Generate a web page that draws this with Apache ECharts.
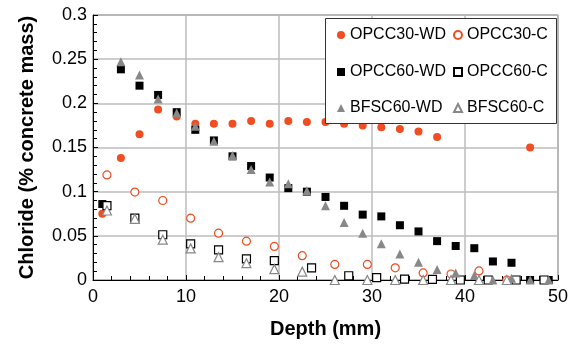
<!DOCTYPE html>
<html>
<head>
<meta charset="utf-8">
<script src="https://cdn.jsdelivr.net/npm/echarts@6/dist/echarts.min.js"></script>
<style>html,body{margin:0;padding:0;background:#fff}#c{width:575px;height:344px}</style>
</head>
<body>
<div id="c"></div>
<script>
// Depths (mm)
var wdDepth = [1,3,5,7,9,11,13,15,17,19,21,23,25,27,29,31,33,35,37,39,41,43,45,47,49];
var cDepthA = [1.5,4.5,7.5,10.5,13.5,16.5,19.5,22.5,26,29.5,32.5,35.5,38.5,41.5,44.5];
var cDepthB = [1.5,4.5,7.5,10.5,13.5,16.5,19.5,23.5,27.5,30.5,33.5,36.5,39.5,42.5,45.5,48.5];

// Chloride (% concrete mass)
var opcc30WD = [0.075,0.138,0.165,0.193,0.185,0.177,0.177,0.177,0.180,0.177,0.180,0.179,0.179,0.177,0.175,0.173,0.171,0.168,0.162,null,null,null,null,0.150,null];
var opcc60WD = [0.086,0.2385,0.220,0.2095,0.190,0.170,0.158,0.140,0.129,0.116,0.104,0.100,0.094,0.084,0.074,0.072,0.062,0.055,0.044,0.0385,0.036,0.021,0.0195,0,0];
var bfsc60WD = [null,0.247,0.232,0.205,0.189,0.174,0.157,0.141,0.125,0.111,0.109,0.101,0.084,0.065,0.053,0.041,0.0295,0.020,0.012,0.008,0.005,0,0.002,0,0];
var opcc30C = [0.119,0.0995,0.090,0.070,0.053,0.044,0.038,0.0275,0.0176,0.0176,0.0138,0.008,0.0068,0.0103,0];
var bfsc60C = [0.0787,0.0693,0.0456,0.0358,0.0258,0.019,0.0123,0.0095,0,0,0,0,0,0,0];
var opcc60C = [0.0843,0.070,0.0512,0.041,0.034,0.024,0.022,0.0138,0.0048,0.0028,0.001,0.0008,0,0,0,0];

var seriesNames = ['OPCC30-WD','OPCC30-C','OPCC60-WD','OPCC60-C','BFSC60-WD','BFSC60-C'];
var xTicks = [0,10,20,30,40,50];
var yTicks = [0,0.05,0.1,0.15,0.2,0.25,0.3];

function pairs(xs, ys){
  var out=[];
  for(var i=0;i<xs.length;i++){ if(ys[i]!==null && ys[i]!==undefined) out.push([xs[i], ys[i]]); }
  return out;
}

var ORANGE = '#EE4E22';
var GRAY = '#888888';

var styles = [
  {symbol:'circle', symbolSize:8, itemStyle:{color:ORANGE, opacity:1}},
  {symbol:'circle', symbolSize:8, itemStyle:{color:'#fff', borderColor:ORANGE, borderWidth:1.2, opacity:1}},
  {symbol:'rect', symbolSize:8, itemStyle:{color:'#000', opacity:1}},
  {symbol:'rect', symbolSize:8, itemStyle:{color:'#fff', borderColor:'#000', borderWidth:1.2, opacity:1}},
  {symbol:'triangle', symbolSize:9, itemStyle:{color:GRAY, opacity:1}},
  {symbol:'triangle', symbolSize:9, itemStyle:{color:'#fff', borderColor:GRAY, borderWidth:1.2, opacity:1}}
];
var dataSets = [
  pairs(wdDepth, opcc30WD), pairs(cDepthA, opcc30C),
  pairs(wdDepth, opcc60WD), pairs(cDepthB, opcc60C),
  pairs(wdDepth, bfsc60WD), pairs(cDepthA, bfsc60C)
];

var series = seriesNames.map(function(n,i){
  return {name:n, type:'scatter', symbol:styles[i].symbol, symbolSize:styles[i].symbolSize,
    itemStyle:styles[i].itemStyle, data:dataSets[i], z: 3+i};
});

// legend positions: two columns, three rows
var legPos = [[337,26],[453,26],[337,63],[453,63],[337,99],[453,99]];
var legendIcons = ['circle','circle','rect','rect','triangle','triangle'];
var legends = seriesNames.map(function(n,i){
  return {left:legPos[i][0], top:legPos[i][1], padding:0, itemWidth:8, itemHeight:8, z:20,
    data:[{name:n, icon:legendIcons[i]}], selectedMode:false,
    textStyle:{fontFamily:'Liberation Sans, Arial', fontSize:16, color:'#000', lineHeight:18}};
});

var chart = echarts.init(document.getElementById('c'), null, {renderer:'canvas'});
chart.setOption({
  animation:false,
  backgroundColor:'#fff',
  grid:{left:93, right:17, top:15, bottom:61, show:true, borderColor:'#555', borderWidth:1, backgroundColor:'transparent'},
  graphic:[{type:'rect', shape:{x:325.5, y:18.5, width:231, height:105}, style:{fill:'#fff', stroke:'#333', lineWidth:1}, z:10}],
  legend: legends,
  xAxis:{
    type:'value', min:0, max:50, interval:10,
    name:'Depth (mm)', nameLocation:'middle', nameGap:39,
    nameTextStyle:{fontFamily:'Liberation Sans, Arial', fontWeight:'bold', fontSize:20, color:'#000'},
    axisLine:{lineStyle:{color:'#000', width:1}},
    axisTick:{inside:true, length:5, lineStyle:{color:'#000'}},
    minorTick:{show:true, splitNumber:5, length:4, lineStyle:{color:'#000'}},
    axisLabel:{fontFamily:'Liberation Sans, Arial', fontSize:18, color:'#000', margin:8,
      formatter:function(v){ return xTicks.indexOf(v)>=0 ? String(v) : ''; }},
    splitLine:{show:true, lineStyle:{color:'#bdbdbd', width:1.5}}
  },
  yAxis:{
    type:'value', min:0, max:0.3, interval:0.05,
    name:'Chloride (% concrete mass)', nameLocation:'middle', nameGap:56,
    nameTextStyle:{fontFamily:'Liberation Sans, Arial', fontWeight:'bold', fontSize:20, color:'#000'},
    axisLine:{show:true, lineStyle:{color:'#000', width:1}},
    axisTick:{show:true, inside:true, length:5, lineStyle:{color:'#000'}},
    minorTick:{show:true, splitNumber:5, length:4, lineStyle:{color:'#000'}},
    axisLabel:{fontFamily:'Liberation Sans, Arial', fontSize:18, color:'#000', margin:6,
      formatter:function(v){ var r=Math.round(v*100)/100; return yTicks.indexOf(r)>=0 ? String(r) : ''; }},
    splitLine:{show:true, lineStyle:{color:'#bdbdbd', width:1.5}}
  },
  series: series
});
</script>
</body>
</html>
